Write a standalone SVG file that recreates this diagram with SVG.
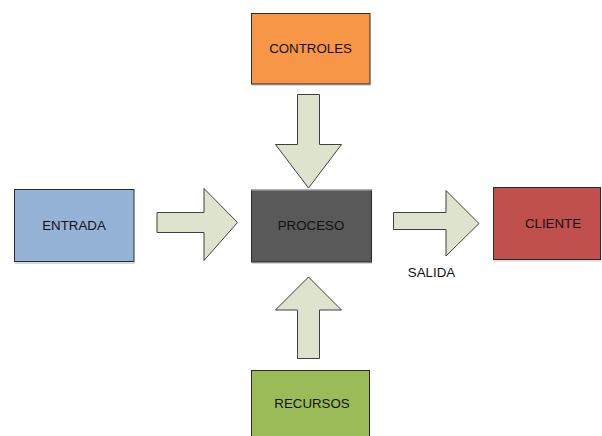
<svg xmlns="http://www.w3.org/2000/svg" width="602" height="436" viewBox="0 0 602 436">
  <style>
    .box { stroke: #2b2b2b; stroke-width: 1; }
    .shadow { fill: #d9d9d9; }
    .arrow { fill: #dde3cc; stroke: #404040; stroke-width: 1; stroke-linejoin: miter; }
    .label { font-family: "Liberation Sans", Arial, sans-serif; font-size: 13.3px; fill: #111; text-anchor: middle; }
  </style>
  <rect width="602" height="436" fill="#ffffff"/>

  <!-- process arrows -->
  <g id="connectors">
    <polygon class="arrow" points="297.5,94.5 319.5,94.5 319.5,144.5 341.5,144.5 308.5,188 275.5,144.5 297.5,144.5"/>
    <polygon class="arrow" points="157,212.5 204,212.5 204,188.5 237.5,222.5 204,260.5 204,232.5 157,232.5"/>
    <polygon class="arrow" points="393.5,212.5 446,212.5 446,190.5 479,223.5 446,256 446,229.5 393.5,229.5"/>
    <polygon class="arrow" points="297.5,358.5 319.5,358.5 319.5,310 341.5,310 308.5,277 275.5,310 297.5,310"/>
    <text class="label" x="431.5" y="277">SALIDA</text>
  </g>

  <g id="controles">
    <rect class="shadow" x="252" y="84" width="119" height="2"/>
    <rect class="box" x="251.5" y="13.5" width="118.5" height="70.5" fill="#f79646"/>
    <text class="label" x="310.5" y="52.5">CONTROLES</text>
  </g>

  <g id="entrada">
    <rect class="shadow" x="15" y="262" width="120" height="2"/>
    <rect class="box" x="14.5" y="189.5" width="119.5" height="72" fill="#95b3d7"/>
    <text class="label" x="74" y="230">ENTRADA</text>
  </g>

  <g id="proceso">
    <rect class="shadow" x="252" y="262" width="120" height="2"/>
    <rect class="box" x="251.5" y="190" width="120" height="72" fill="#595959"/>
    <line x1="251.5" y1="190" x2="371.5" y2="190" stroke="#c8c8c8" stroke-width="1"/>
    <text class="label" x="311" y="229.5">PROCESO</text>
  </g>

  <g id="cliente">
    <rect class="shadow" x="494" y="259.5" width="108" height="2"/>
    <rect class="box" x="493.5" y="187.5" width="107" height="72" fill="#c0504d"/>
    <text class="label" x="553" y="227.5">CLIENTE</text>
  </g>

  <g id="recursos">
    <rect class="box" x="251.5" y="370.5" width="118" height="72" fill="#9bbb59"/>
    <text class="label" x="312" y="407.5">RECURSOS</text>
  </g>
</svg>
